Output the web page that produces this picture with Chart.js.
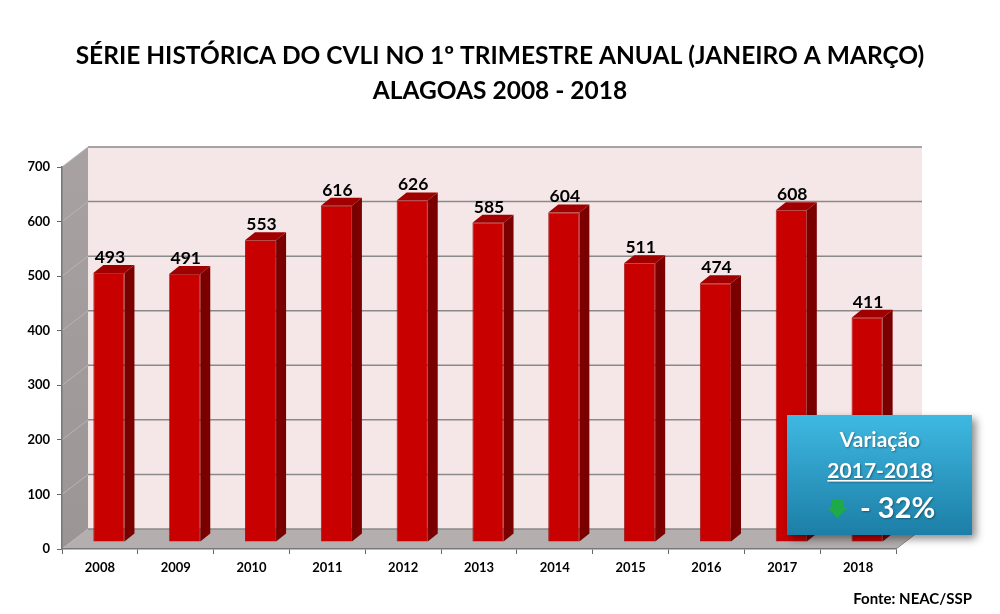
<!DOCTYPE html>
<html>
<head>
<meta charset="utf-8">
<script src="https://cdn.jsdelivr.net/npm/chart.js@4.4.1/dist/chart.umd.min.js"></script>
<style>
html,body{margin:0;padding:0;background:#fff;}
#wrap{width:1000px;height:614px;position:relative;}
</style>
</head>
<body>
<div id="wrap"><canvas id="c" width="1000" height="614"></canvas></div>
<script>
const titleLines = ['SÉRIE HISTÓRICA DO CVLI NO 1º TRIMESTRE ANUAL (JANEIRO A MARÇO)', 'ALAGOAS 2008 - 2018'];
const categories = ['2008','2009','2010','2011','2012','2013','2014','2015','2016','2017','2018'];
const cvliValues = [493, 491, 553, 616, 626, 585, 604, 511, 474, 608, 411];
const yTicks = [0, 100, 200, 300, 400, 500, 600, 700];
const sourceText = 'Fonte: NEAC/SSP';
const boxLines = ['Variação', '2017-2018', '- 32%'];

const FONT = 'Lato, "Open Sans", sans-serif';
const WALL_DX = 26, WALL_DY = -20;   // depth of the back wall
const BAR_DX = 9, BAR_DY = -7;       // bar front face position on the floor
const BAR_DEPTH_X = 10, BAR_DEPTH_Y = -8;

const threeD = {
  id: 'threeD',
  beforeDraw(chart) {
    const ctx = chart.ctx, a = chart.chartArea, ys = chart.scales.y;
    ctx.save();
    ctx.fillStyle = '#fff';
    ctx.fillRect(0, 0, chart.width, chart.height);
    const L = a.left, R = a.right, B = ys.getPixelForValue(0), T = ys.getPixelForValue(700);
    // back wall
    ctx.fillStyle = '#f5e7e7';
    ctx.fillRect(L + WALL_DX, T + WALL_DY, R - L, B - T);
    // left wall
    const g = ctx.createLinearGradient(L, T, L + WALL_DX, B);
    g.addColorStop(0, '#a7a1a1');
    g.addColorStop(1, '#9b9595');
    ctx.fillStyle = g;
    ctx.beginPath();
    ctx.moveTo(L, B); ctx.lineTo(L, T); ctx.lineTo(L + WALL_DX, T + WALL_DY); ctx.lineTo(L + WALL_DX, B + WALL_DY);
    ctx.closePath(); ctx.fill();
    // floor
    ctx.fillStyle = '#b5aeae';
    ctx.beginPath();
    ctx.moveTo(L, B); ctx.lineTo(R, B); ctx.lineTo(R + WALL_DX, B + WALL_DY); ctx.lineTo(L + WALL_DX, B + WALL_DY);
    ctx.closePath(); ctx.fill();
    ctx.strokeStyle = '#8c8888'; ctx.lineWidth = 1;
    ctx.beginPath(); ctx.moveTo(R, B); ctx.lineTo(R + WALL_DX, B + WALL_DY); ctx.stroke();
    // grid lines
    yTicks.forEach(v => {
      const py = ys.getPixelForValue(v);
      ctx.strokeStyle = '#8a8a8a'; ctx.lineWidth = 1.5;
      ctx.beginPath(); ctx.moveTo(L + WALL_DX, py + WALL_DY); ctx.lineTo(R + WALL_DX, py + WALL_DY); ctx.stroke();
      ctx.strokeStyle = '#b9b4b4'; ctx.lineWidth = 1;
      ctx.beginPath(); ctx.moveTo(L, py); ctx.lineTo(L + WALL_DX, py + WALL_DY); ctx.stroke();
    });
    ctx.restore();
  },
  beforeDatasetsDraw(chart) {
    chart.ctx.save();
    chart.ctx.translate(BAR_DX, BAR_DY);
  },
  afterDatasetsDraw(chart) {
    const ctx = chart.ctx;
    const meta = chart.getDatasetMeta(0);
    meta.data.forEach(bar => {
      const p = bar.getProps(['x', 'y', 'base', 'width'], true);
      const xl = p.x - p.width / 2, xr = p.x + p.width / 2;
      // side face
      ctx.fillStyle = '#7a0000';
      ctx.beginPath();
      ctx.moveTo(xr, p.y); ctx.lineTo(xr + BAR_DEPTH_X, p.y + BAR_DEPTH_Y);
      ctx.lineTo(xr + BAR_DEPTH_X, p.base + BAR_DEPTH_Y); ctx.lineTo(xr, p.base);
      ctx.closePath(); ctx.fill();
      // top face
      ctx.fillStyle = '#a00000';
      ctx.beginPath();
      ctx.moveTo(xl, p.y); ctx.lineTo(xr, p.y);
      ctx.lineTo(xr + BAR_DEPTH_X, p.y + BAR_DEPTH_Y); ctx.lineTo(xl + BAR_DEPTH_X, p.y + BAR_DEPTH_Y);
      ctx.closePath(); ctx.fill();
    });
    // value labels
    ctx.fillStyle = '#000';
    ctx.font = 'bold 17.5px ' + FONT;
    ctx.textAlign = 'center';
    ctx.textBaseline = 'alphabetic';
    meta.data.forEach((bar, i) => {
      const p = bar.getProps(['x', 'y'], true);
      ctx.fillText(String(cvliValues[i]), p.x + 1, p.y - 10);
    });
    ctx.restore();
  },
  afterDraw(chart) {
    const ctx = chart.ctx;
    ctx.save();
    // source
    ctx.fillStyle = '#000';
    ctx.font = 'bold 15px ' + FONT;
    ctx.textAlign = 'right';
    ctx.textBaseline = 'alphabetic';
    ctx.fillText(sourceText, 972, 604);
    // variation box
    const bx = 787, by = 415, bw = 185, bh = 120;
    ctx.save();
    ctx.shadowColor = 'rgba(0,0,0,0.45)';
    ctx.shadowBlur = 8; ctx.shadowOffsetX = 4; ctx.shadowOffsetY = 4;
    const g = ctx.createLinearGradient(0, by, 0, by + bh);
    g.addColorStop(0, '#3fb9e2');
    g.addColorStop(1, '#1c7ea6');
    ctx.fillStyle = g;
    ctx.fillRect(bx, by, bw, bh);
    ctx.restore();
    ctx.save();
    ctx.shadowColor = 'rgba(0,0,0,0.35)';
    ctx.shadowBlur = 2; ctx.shadowOffsetX = 1; ctx.shadowOffsetY = 1;
    ctx.fillStyle = '#fff';
    ctx.textAlign = 'center';
    ctx.font = 'bold 21px ' + FONT;
    ctx.fillText(boxLines[0], 880, 447);
    ctx.fillText(boxLines[1], 880, 478);
    const w2 = ctx.measureText(boxLines[1]).width;
    ctx.fillRect(880 - w2 / 2, 480, w2, 1.6);
    ctx.font = 'bold 29px ' + FONT;
    ctx.textAlign = 'left';
    ctx.fillText(boxLines[2], 860, 518);
    ctx.restore();
    // green arrow
    ctx.fillStyle = '#1faa4a';
    ctx.beginPath();
    ctx.moveTo(832, 500); ctx.lineTo(843, 500); ctx.lineTo(843, 507);
    ctx.lineTo(848, 507); ctx.lineTo(837.5, 518); ctx.lineTo(827, 507);
    ctx.lineTo(832, 507); ctx.closePath(); ctx.fill();
    ctx.restore();
  }
};

new Chart(document.getElementById('c'), {
  type: 'bar',
  data: {
    labels: categories,
    datasets: [{
      data: cvliValues,
      backgroundColor: '#c80000',
      borderColor: '#9a0000',
      borderWidth: 0.8,
      barPercentage: 0.41,
      categoryPercentage: 1.0
    }]
  },
  options: {
    responsive: false,
    animation: false,
    devicePixelRatio: 1,
    layout: { padding: { left: 0, right: 0, top: 0, bottom: 35 } },
    plugins: {
      legend: { display: false },
      tooltip: { enabled: false },
      title: {
        display: true,
        text: titleLines,
        color: '#000',
        font: { family: FONT, size: 24.5, weight: 'bold', lineHeight: '35px' },
        padding: { top: 39, bottom: 58 }
      }
    },
    scales: {
      x: {
        afterFit: s => { s.height = 30; },
        grid: { display: true, drawOnChartArea: false, drawTicks: true, tickLength: 5, color: '#666', offset: true },
        border: { display: true, color: '#777', width: 1.5 },
        ticks: { color: '#000', padding: 6, font: { family: FONT, size: 13, weight: 'bold' }, maxRotation: 0 }
      },
      y: {
        min: 0, max: 700,
        afterFit: s => { s.width = 62; },
        afterBuildTicks: s => { s.ticks = yTicks.map(v => ({ value: v })); },
        grid: { display: true, drawOnChartArea: false, drawTicks: true, tickLength: 5, color: '#666' },
        border: { display: true, color: '#777', width: 1.5 },
        ticks: { color: '#000', padding: 7, font: { family: FONT, size: 13, weight: 'bold' } }
      },
      y2: {
        position: 'right',
        display: true,
        afterFit: s => { s.width = 104; },
        grid: { display: false },
        border: { display: false },
        ticks: { display: false }
      }
    }
  },
  plugins: [threeD]
});
</script>
</body>
</html>
